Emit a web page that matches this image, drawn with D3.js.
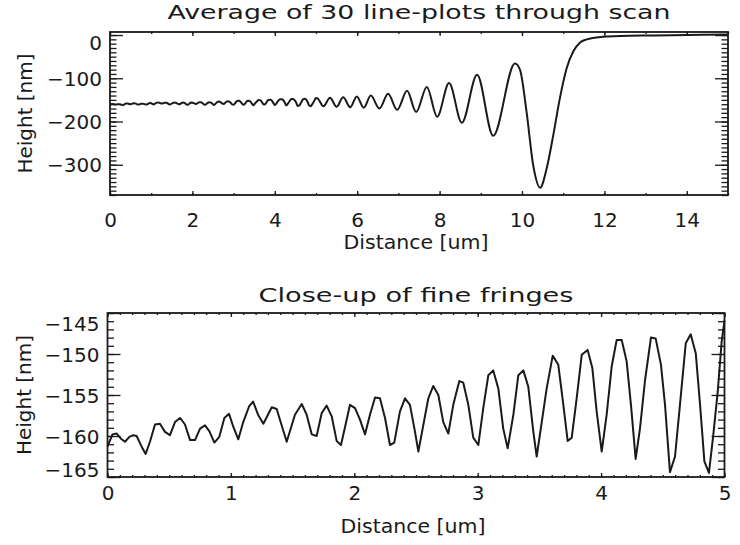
<!DOCTYPE html>
<html>
<head>
<meta charset="utf-8">
<script src="https://cdn.jsdelivr.net/npm/d3@7"></script>
<style>
  body { margin: 0; background: #fff; }
  text { font-family: "DejaVu Sans", sans-serif; fill: #1a1a1a; }
</style>
</head>
<body>
<svg id="chart"></svg>
<script>
const W = 740, H = 545;

// close-up samples (0 - 5 um)
const fineX = [0, 0.04, 0.074, 0.107, 0.142, 0.177, 0.209, 0.236, 0.277, 0.309, 0.344, 0.385, 0.425, 0.466,
  0.506, 0.547, 0.588, 0.628, 0.669, 0.709, 0.75, 0.79, 0.825, 0.866, 0.906, 0.947, 0.985, 1.02, 1.06, 1.1,
  1.147, 1.18, 1.22, 1.263, 1.331, 1.371, 1.452, 1.519, 1.574, 1.614, 1.655, 1.695, 1.736, 1.776, 1.817,
  1.857, 1.892, 1.925, 1.965, 2.006, 2.046, 2.087, 2.127, 2.168, 2.208, 2.249, 2.289, 2.324, 2.37, 2.411,
  2.451, 2.492, 2.519, 2.6, 2.64, 2.681, 2.721, 2.762, 2.802, 2.851, 2.883, 2.924, 2.964, 3.005, 3.045,
  3.086, 3.126, 3.167, 3.207, 3.243, 3.289, 3.329, 3.37, 3.41, 3.451, 3.478, 3.519, 3.559, 3.608, 3.653,
  3.694, 3.729, 3.762, 3.802, 3.843, 3.891, 3.929, 3.964, 4.005, 4.045, 4.086, 4.126, 4.167, 4.207, 4.242,
  4.28, 4.315, 4.356, 4.404, 4.442, 4.485, 4.518, 4.558, 4.599, 4.639, 4.686, 4.726, 4.767, 4.802, 4.837,
  4.874, 4.909, 4.945, 4.977, 5.0];
const fineY = [-161.3, -159.8, -159.7, -160.3, -160.7, -160.1, -159.9, -160.0, -161.3, -162.2, -160.7, -158.6,
  -158.5, -159.5, -159.9, -158.3, -157.8, -158.6, -160.5, -160.5, -159.1, -158.7, -159.4, -160.8, -160.1,
  -157.8, -157.3, -158.9, -160.4, -158.3, -156.4, -155.8, -157.4, -158.5, -156.5, -156.7, -160.7, -157.4,
  -156.1, -157.4, -159.8, -160.0, -157.2, -156.3, -157.6, -160.6, -161.1, -158.9, -156.2, -156.6, -158.0,
  -159.8, -157.4, -155.3, -155.4, -157.8, -161.1, -160.8, -157.0, -155.4, -156.2, -159.5, -161.9, -155.4,
  -153.9, -155.0, -158.3, -159.7, -156.2, -153.3, -153.5, -156.2, -160.2, -161.1, -156.6, -152.6, -152.0,
  -154.2, -159.1, -161.5, -157.4, -152.6, -152.0, -154.0, -159.5, -162.5, -158.3, -154.2, -150.2, -151.3,
  -156.2, -160.6, -160.2, -155.4, -150.1, -149.5, -151.7, -157.0, -161.9, -157.4, -151.5, -148.3, -148.3,
  -150.9, -156.2, -162.8, -159.1, -153.2, -148.0, -148.1, -151.3, -156.2, -164.4, -162.5, -156.2, -148.7,
  -147.6, -149.9, -156.2, -163.1, -164.5, -159.9, -154.6, -148.5, -145.9];

// rest of the averaged profile (5 - 15 um)
const scanX = [5.03, 5.18, 5.34, 5.5, 5.66, 5.83, 5.99, 6.16, 6.33, 6.54, 6.75, 6.97, 7.21, 7.43, 7.69, 7.94,
  8.23, 8.54, 8.91, 9.3, 9.83, 9.95, 10.11, 10.27, 10.44, 10.6, 10.76, 10.92, 11.08, 11.25, 11.41, 11.57,
  11.97, 12.4, 13.2, 14.0, 15.0];
const scanY = [-146, -165, -145, -166, -144, -167, -142, -168, -140, -170, -136, -173, -129, -178, -120, -189,
  -111, -203, -92, -233, -66, -80, -177, -300, -353, -308, -231, -146, -78, -37, -17, -10,
  -4, -2, -1, 0, 1];

const topXTicks = [0, 2, 4, 6, 8, 10, 12, 14];
const topYTicks = [0, -100, -200, -300];
const fineXTicks = [0, 1, 2, 3, 4, 5];
const fineYTicks = [-145, -150, -155, -160, -165];

const svg = d3.select("#chart").attr("width", W).attr("height", H);
svg.append("rect").attr("width", W).attr("height", H).attr("fill", "#fff");

const INK = "#1a1a1a";

function panel(p) {
  let x = d3.scaleLinear().domain(p.xDomain).range([p.left, p.right]);
  let y = d3.scaleLinear().domain(p.yDomain).range([p.bottom, p.top]);
  let g = svg.append("g").style("color", INK);

  let w = p.right - p.left, h = p.bottom - p.top;
  let xMajor = 4, xMinor = 2, yMajor = 13, yMinor = 6.5;

  // minor ticks on all four sides
  g.append("g").attr("transform", `translate(0,${p.bottom})`)
    .call(d3.axisBottom(x).tickValues(p.xMinor).tickSize(-xMinor).tickFormat(""));
  g.append("g").attr("transform", `translate(0,${p.top})`)
    .call(d3.axisTop(x).tickValues(p.xMinor).tickSize(-xMinor).tickFormat(""));
  g.append("g").attr("transform", `translate(${p.left},0)`)
    .call(d3.axisLeft(y).tickValues(p.yMinor).tickSize(-yMinor).tickFormat(""));
  g.append("g").attr("transform", `translate(${p.right},0)`)
    .call(d3.axisRight(y).tickValues(p.yMinor).tickSize(-yMinor).tickFormat(""));

  // major ticks
  g.append("g").attr("transform", `translate(0,${p.bottom})`)
    .call(d3.axisBottom(x).tickValues(p.xTicks).tickSize(-xMajor).tickPadding(p.xPad).tickFormat(d3.format("d")));
  g.append("g").attr("transform", `translate(0,${p.top})`)
    .call(d3.axisTop(x).tickValues(p.xTicks).tickSize(-xMajor).tickFormat(""));
  let yl = g.append("g").attr("transform", `translate(${p.left},0)`)
    .call(d3.axisLeft(y).tickValues(p.yTicks).tickSize(-yMajor).tickPadding(8).tickFormat(d3.format("d")));
  g.append("g").attr("transform", `translate(${p.right},0)`)
    .call(d3.axisRight(y).tickValues(p.yTicks).tickSize(-yMajor).tickFormat(""));

  g.selectAll(".domain").remove();
  g.selectAll(".tick line").attr("stroke-width", 1.3);
  g.selectAll(".tick text").style("font-size", "20px").style("font-family", "DejaVu Sans");

  // keep end labels of the y axis inside the frame
  yl.selectAll(".tick text").attr("dy", null).attr("y", function(d) {
    let ty = y(d);
    let base = Math.min(Math.max(ty + 7, p.top + 17), p.bottom - 1);
    return base - ty;
  });

  g.append("rect")
    .attr("x", p.left).attr("y", p.top).attr("width", w).attr("height", h)
    .attr("fill", "none").attr("stroke", INK).attr("stroke-width", 1.8);

  let line = d3.line().x(d => x(d[0])).y(d => y(d[1])).curve(p.curve);
  g.append("path").datum(p.data)
    .attr("d", line).attr("fill", "none").attr("stroke", INK)
    .attr("stroke-width", 2).attr("stroke-linejoin", "round");

  let cx = (p.left + p.right) / 2;
  svg.append("text").attr("x", cx).attr("y", p.titleY).attr("text-anchor", "middle")
    .attr("textLength", p.titleLen).attr("lengthAdjust", "spacingAndGlyphs")
    .style("font-size", "20px").text(p.title);
  svg.append("text").attr("x", cx - 3).attr("y", p.xTitleY).attr("text-anchor", "middle")
    .attr("textLength", 145).attr("lengthAdjust", "spacingAndGlyphs")
    .style("font-size", "20px").text("Distance [um]");
  svg.append("text")
    .attr("transform", `translate(${p.yTitleX},${(p.top + p.bottom) / 2}) rotate(-90)`)
    .attr("text-anchor", "middle").attr("textLength", 120).attr("lengthAdjust", "spacingAndGlyphs")
    .style("font-size", "20px").text("Height [nm]");
}

let scanData = fineX.map((v, i) => [v, fineY[i]]).concat(scanX.map((v, i) => [v, scanY[i]]));
let fineData = fineX.map((v, i) => [v, fineY[i]]);

panel({
  left: 110, right: 728, top: 32, bottom: 195,
  xDomain: [0, 15], yDomain: [-370, 7],
  xTicks: topXTicks, yTicks: topYTicks,
  xMinor: d3.range(0, 15.01, 1), yMinor: d3.range(-370, 7, 10),
  xPad: 17.5, data: scanData, curve: d3.curveMonotoneX,
  title: "Average of 30 line-plots through scan", titleY: 19, titleLen: 503,
  xTitleY: 249, yTitleX: 32
});

panel({
  left: 107.5, right: 724.5, top: 313, bottom: 477,
  xDomain: [0, 5], yDomain: [-165, -145],
  xTicks: fineXTicks, yTicks: fineYTicks,
  xMinor: d3.range(0, 5.001, 0.1), yMinor: d3.range(-165, -144.9, 1),
  xPad: 8.5, data: fineData, curve: d3.curveLinear,
  title: "Close-up of fine fringes", titleY: 302, titleLen: 315,
  xTitleY: 533, yTitleX: 31
});
</script>
</body>
</html>
